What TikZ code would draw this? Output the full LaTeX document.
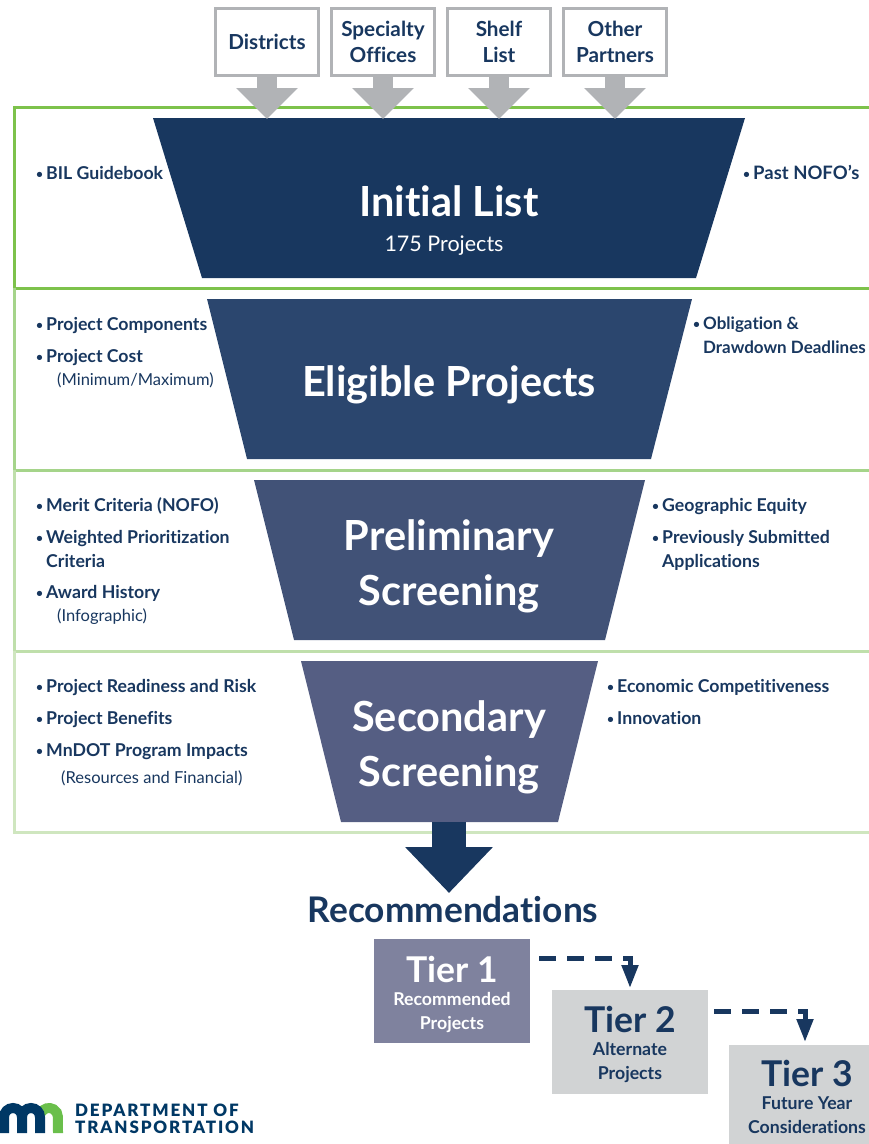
\documentclass[tikz,border=0pt]{standalone}
\usepackage{fontspec}
\setmainfont{Lato}[Ligatures=NoCommon]
\usetikzlibrary{arrows.meta}
\definecolor{navy}{HTML}{18375F}
\definecolor{funnelb}{HTML}{2B466E}
\definecolor{funnelc}{HTML}{415277}
\definecolor{funneld}{HTML}{555E83}
\definecolor{tierone}{HTML}{7F829E}
\definecolor{tiergray}{HTML}{D1D3D4}
\definecolor{boxgray}{HTML}{B1B3B6}
\definecolor{framea}{HTML}{7DC24B}
\definecolor{frameb}{HTML}{A5D48A}
\definecolor{framec}{HTML}{BFDFAB}
\definecolor{framed}{HTML}{CFE6BF}
\definecolor{logoblue}{HTML}{003865}
\definecolor{logogreen}{HTML}{6ABF4B}
\newfontfamily\logofont[LetterSpace=11]{Lato Black}
\tikzset{
source/.style={draw=boxgray,line width=3pt,fill=white,minimum width=103pt,minimum height=67pt,
  align=center,text=navy,font=\fontsize{20.7}{26}\selectfont\bfseries},
feed/.style={boxgray,line width=20pt,-{Triangle[width=60pt,length=31pt]}},
bullets/.style={anchor=north west,align=left,text=navy,inner sep=0pt,
  font=\fontsize{17.7}{24}\selectfont\bfseries},
stage/.style={text=white,align=center,inner sep=0pt,font=\fontsize{41.5}{55}\selectfont\bfseries},
tier/.style={minimum width=156pt,minimum height=104pt,inner sep=0pt},
next/.style={navy,line width=5pt,dash pattern=on 17pt off 11pt,-{Triangle[width=16pt,length=23pt]}},
}
\newcommand{\dotitem}{\makebox[10pt][l]{\raisebox{1pt}{\fontsize{12}{12}\selectfont\textbullet}}}
\newcommand{\subnote}[1]{{\normalfont\fontsize{16.5}{20}\selectfont #1}}
\begin{document}
\begin{tikzpicture}[x=1pt,y=-1pt]
\useasboundingbox (0,0) rectangle (869,1144);
% the frame
\draw[framea,line width=3pt] (869,107) -- (14,107) -- (14,288) -- (869,288);
\draw[frameb,line width=3pt] (14,288) -- (14,470) -- (869,470);
\draw[framec,line width=3pt] (14,470) -- (14,651) -- (869,651);
\draw[framed,line width=3pt] (14,651) -- (14,832) -- (869,832);
% the funnel
\fill[navy] (153,118) -- (745,118) -- (696,278) -- (202,278) -- cycle;
\fill[funnelb] (207,299) -- (692,299) -- (651,459) -- (247,459) -- cycle;
\fill[funnelc] (254,480) -- (645,480) -- (605,640) -- (294,640) -- cycle;
\fill[funneld] (301,661) -- (598,661) -- (558,822) -- (341,822) -- cycle;
\node[stage] (initial) at (449,201) {Initial List};
\node[text=white,inner sep=0pt,font=\fontsize{21.5}{25}\selectfont] (count) at (444,246) {175 Projects};
\node[stage] (eligible) at (449,385) {Eligible Projects};
\node[stage] (prelim) at (449,566) {Preliminary\\Screening};
\node[stage] (second) at (449,747) {Secondary\\Screening};
% the sources
\node[source] (districts) at (267,41.5) {Districts};
\node[source] (offices) at (383,41.5) {Specialty\\Offices};
\node[source] (shelf) at (499,41.5) {Shelf\\List};
\node[source] (partners) at (615,41.5) {Other\\Partners};
\foreach \name/\x in {districts/267,offices/383,shelf/499,partners/615}
{
  \coordinate (\name-in) at (\x,119);
  \draw[feed] (\name.south) -- (\name-in);
}
% the lists
\node[bullets] (lista) at (36,166) {\dotitem BIL Guidebook};
\node[bullets,font=\fontsize{18.5}{24}\selectfont\bfseries] (listb) at (743,165) {\dotitem Past NOFO's};
\node[bullets] (listc) at (36,317) {\dotitem Project Components\\[8pt]
  \dotitem Project Cost\\[-1pt]
  \hspace{21pt}\subnote{(Minimum/Maximum)}};
\node[bullets,font=\fontsize{17}{24}\selectfont\bfseries] (listd) at (693,317) {\dotitem Obligation \&\\\hspace{10pt}Drawdown Deadlines};
\node[bullets] (liste) at (36,497) {\dotitem Merit Criteria (NOFO)\\[8pt]
  \dotitem Weighted Prioritization\\\hspace{10pt}Criteria\\[7pt]
  \dotitem Award History\\[-1pt]
  \hspace{21pt}\subnote{(Infographic)}};
\node[bullets] (listf) at (652,498) {\dotitem Geographic Equity\\[8pt]
  \dotitem Previously Submitted\\\hspace{10pt}Applications};
\node[bullets] (listg) at (36,679) {\dotitem Project Readiness and Risk\\[8pt]
  \dotitem Project Benefits\\[8pt]
  \dotitem MnDOT Program Impacts\\[3pt]
  \hspace{25pt}\subnote{(Resources and Financial)}};
\node[bullets] (listh) at (607,679) {\dotitem Economic Competitiveness\\[8pt]
  \dotitem Innovation};
% the outcome
\coordinate (funnel-out) at (449,822);
\coordinate (funnel-tip) at (449,893);
\draw[navy,line width=34pt,-{Triangle[width=85pt,length=46pt]}] (funnel-out) -- (funnel-tip);
\node[text=navy,inner sep=0pt,font=\fontsize{35.3}{44}\selectfont\bfseries] (recs) at (453,910) {Recommendations};
\node[tier,fill=tierone] (tiera) at (452,991) {};
\node[tier,fill=tiergray] (tierb) at (630,1042) {};
\node[tier,fill=tiergray] (tierc) at (807,1097) {};
\foreach \name/\x/\y/\txt/\col/\subone/\subtwo in {
  a/452/969/1/white/Recommended/Projects,
  b/630/1019/2/navy/Alternate/Projects,
  c/807/1073/3/navy/Future Year/Considerations}
{
  \node[text=\col,inner sep=0pt,font=\fontsize{35.5}{44}\selectfont\bfseries] (head\name) at (\x,\y) {Tier \txt};
  \node[text=\col,align=center,anchor=north,inner sep=0pt,font=\fontsize{17.7}{24}\selectfont\bfseries]
    (sub\name) at (\x,\y+23) {\subone\\\subtwo};
}
% the dashed links
\coordinate (link-a) at (539,958);
\coordinate (drop-a) at (630,988);
\coordinate (link-b) at (714,1011);
\coordinate (drop-b) at (805,1042);
\draw[next] (link-a) -- (link-a -| drop-a) -- (drop-a);
\draw[next] (link-b) -- (link-b -| drop-b) -- (drop-b);
% the logo
\draw[logogreen,line width=10pt] (41.2,1112.5) arc[start angle=210,end angle=360,radius=9] -- (58,1133);
\draw[logoblue,line width=10pt] (4,1133) -- (4,1117) arc[start angle=180,end angle=360,radius=9]
  -- (22,1133) (22,1117) arc[start angle=180,end angle=360,radius=9] -- (40,1133);
\node[anchor=west,text=logoblue,inner sep=0pt,font=\logofont\fontsize{17}{20}\selectfont] (dept) at (75,1110) {DEPARTMENT OF};
\node[anchor=west,text=logoblue,inner sep=0pt,font=\logofont\fontsize{17}{20}\selectfont] (trans) at (75,1127) {TRANSPORTATION};
\end{tikzpicture}
\end{document}
